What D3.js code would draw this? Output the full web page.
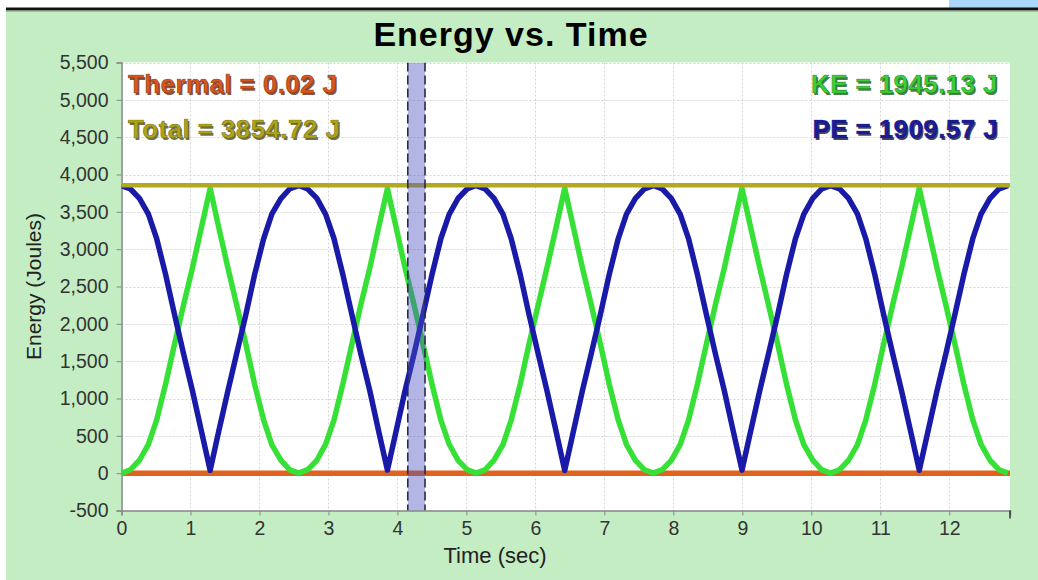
<!DOCTYPE html>
<html><head><meta charset="utf-8">
<script src="https://cdn.jsdelivr.net/npm/d3@7"></script>
<style>body{margin:0;background:#fff;overflow:hidden}svg{display:block}</style>
</head><body><svg id="c" width="1038" height="580"></svg>
<script>
// ---- data ----
const timeSec = [0,0.13,0.26,0.39,0.51,0.64,0.77,0.90,1.03,1.16,1.285,
1.41,1.54,1.67,1.80,1.93,2.06,2.18,2.31,2.44,2.57,
2.70,2.83,2.96,3.08,3.21,3.34,3.47,3.60,3.73,3.855,
3.98,4.11,4.24,4.37,4.50,4.63,4.75,4.88,5.01,5.14,
5.27,5.40,5.53,5.65,5.78,5.91,6.04,6.17,6.30,6.425,
6.55,6.68,6.81,6.94,7.07,7.20,7.32,7.45,7.58,7.71,
7.84,7.97,8.10,8.22,8.35,8.48,8.61,8.74,8.87,8.995,
9.12,9.25,9.38,9.51,9.64,9.77,9.89,10.02,10.15,10.28,
10.41,10.54,10.67,10.79,10.92,11.05,11.18,11.31,11.44,11.565,
11.69,11.82,11.95,12.08,12.21,12.34,12.46,12.59,12.72,12.85];
const keJ = [0,46,173,385,713,1195,1735,2255,2756,3296,3816,
3290,2760,2250,1740,1190,715,380,175,44,0,
48,170,388,710,1198,1730,2260,2750,3300,3812,
3294,2752,2258,1732,1197,710,387,171,47,0,
45,174,383,715,1192,1738,2252,2758,3292,3818,
3297,2755,2253,1737,1193,714,384,172,46,0,
47,172,386,711,1196,1733,2257,2754,3298,3814,
3293,2758,2251,1739,1194,712,386,174,45,0,
46,173,384,714,1194,1736,2256,2757,3295,3815,
3296,2756,2254,1734,1196,713,385,173,46,0];
const peJ = [3850,3806,3680,3468,3140,2658,2118,1598,1097,557,38,
563,1093,1603,2113,2663,3138,3473,3678,3809,3852,
3805,3683,3465,3143,2655,2123,1593,1103,553,42,
559,1101,1595,2121,2656,3143,3466,3682,3806,3852,
3808,3679,3470,3138,2661,2115,1601,1095,561,36,
556,1098,1600,2116,2660,3139,3469,3681,3807,3852,
3806,3681,3467,3142,2657,2120,1596,1099,555,40,
560,1095,1602,2114,2659,3141,3467,3679,3808,3852,
3807,3680,3469,3139,2659,2117,1597,1096,558,39,
557,1097,1599,2119,2657,3140,3468,3680,3807,3852];
const flatTime = [0, 12.88];
const totalJ = [3854.72, 3854.72];
const thermalJ = [0.02, 0.02];
const yTicks = [-500,0,500,1000,1500,2000,2500,3000,3500,4000,4500,5000,5500];
const xTicks = [0,1,2,3,4,5,6,7,8,9,10,11,12];
const bandSec = [4.15, 4.40];
const readoutLabels = ["Thermal = 0.02 J","Total = 3854.72 J","KE = 1945.13 J","PE = 1909.57 J"];

// ---- drawing ----
const svg = d3.select("#c");
const W = 1038, H = 580;
const plot = {l:121.5, r:1010, t:62.5, b:510.5};

svg.append("rect").attr("x",0).attr("y",0).attr("width",W).attr("height",H).attr("fill","#fff");
svg.append("rect").attr("x",6).attr("y",10).attr("width",W-6).attr("height",H-10).attr("fill","#c4edc4");
svg.append("rect").attr("x",949).attr("y",0).attr("width",89).attr("height",8).attr("fill","#a9d8fb");
svg.append("rect").attr("x",6).attr("y",7.5).attr("width",W-6).attr("height",2.5).attr("fill","#111");
svg.append("rect").attr("x",6).attr("y",10).attr("width",W-6).attr("height",1.5).attr("fill","#7a8f7a");

const x = d3.scaleLinear().domain([0,12.88]).range([plot.l, plot.r]);
const y = d3.scaleLinear().domain([-500,5500]).range([plot.b, plot.t]);

svg.append("rect").attr("x",plot.l).attr("y",plot.t).attr("width",plot.r-plot.l).attr("height",plot.b-plot.t).attr("fill","#fff");

const grid = svg.append("g").attr("stroke","#d4d4d4").attr("stroke-width",1).attr("stroke-dasharray","2,2");
yTicks.forEach(v=>grid.append("line").attr("x1",plot.l).attr("x2",plot.r).attr("y1",Math.round(y(v))+0.5).attr("y2",Math.round(y(v))+0.5));
xTicks.forEach(v=>grid.append("line").attr("y1",plot.t).attr("y2",plot.b).attr("x1",Math.round(x(v))+0.5).attr("x2",Math.round(x(v))+0.5));

const font = "'Liberation Sans', Arial, sans-serif";
const fmtY = d => d3.format(",")(d).replace("\u2212","-");
const yAxis = svg.append("g").attr("transform",`translate(${plot.l},0)`)
  .call(d3.axisLeft(y).tickValues(yTicks).tickSize(5).tickPadding(8).tickFormat(fmtY));
const xAxis = svg.append("g").attr("transform",`translate(0,${plot.b})`)
  .call(d3.axisBottom(x).tickValues(xTicks).tickSize(5).tickPadding(6).tickFormat(d3.format("d")));
[yAxis,xAxis].forEach(a=>{
  a.select(".domain").attr("stroke","#888").attr("stroke-width",1.5);
  a.selectAll(".tick line").attr("stroke","#888");
  a.selectAll(".tick text").attr("fill","#333").style("font-family",font).style("font-size","19.5px");
});
svg.append("line").attr("x1",plot.r).attr("x2",plot.r).attr("y1",plot.b).attr("y2",plot.b+8).attr("stroke","#333").attr("stroke-width",1.5);

svg.append("clipPath").attr("id","clip").append("rect").attr("x",plot.l).attr("y",plot.t).attr("width",plot.r-plot.l).attr("height",plot.b-plot.t);
const g = svg.append("g").attr("clip-path","url(#clip)");
const line = d3.line().x(d=>x(d[0])).y(d=>y(d[1]));

g.append("path").datum(flatTime.map((t,i)=>[t,thermalJ[i]])).attr("d",line).attr("fill","none").attr("stroke","#e0621e").attr("stroke-width",5.5);
g.append("path").datum(timeSec.map((t,i)=>[t,keJ[i]])).attr("d",line).attr("fill","none").attr("stroke","#36e036").attr("stroke-width",5.5).attr("stroke-linejoin","round");
g.append("path").datum(timeSec.map((t,i)=>[t,peJ[i]])).attr("d",line).attr("fill","none").attr("stroke","#1a1aa8").attr("stroke-width",5.5).attr("stroke-linejoin","round");
g.append("path").datum(flatTime.map((t,i)=>[t,totalJ[i]])).attr("d",line).attr("fill","none").attr("stroke","#b2aa1e").attr("stroke-width",4.5);

g.append("rect").attr("x",x(bandSec[0])).attr("y",plot.t).attr("width",x(bandSec[1])-x(bandSec[0])).attr("height",plot.b-plot.t)
  .attr("fill","#4a50c0").attr("fill-opacity",0.42);
bandSec.forEach(t=>g.append("line").attr("x1",x(t)).attr("x2",x(t)).attr("y1",plot.t).attr("y2",plot.b)
  .attr("stroke","#2a2a48").attr("stroke-width",1.6).attr("stroke-dasharray","9,4"));

const ro = [
  {t:readoutLabels[0], x:128, y:93, anchor:"start", fill:"#d9561c", dark:"#5a2008"},
  {t:readoutLabels[1], x:128, y:138, anchor:"start", fill:"#aca41a", dark:"#4a4408"},
  {t:readoutLabels[2], x:998, y:93, anchor:"end", fill:"#38d038", dark:"#115511"},
  {t:readoutLabels[3], x:998, y:138, anchor:"end", fill:"#1c1ca0", dark:"#08083a"}
];
ro.forEach(o=>{
  svg.append("text").attr("x",o.x+1.5).attr("y",o.y+1.5).attr("text-anchor",o.anchor).text(o.t)
    .style("font-family",font).style("font-weight","bold").style("font-size","26px").style("letter-spacing","0.4px")
    .attr("fill",o.dark).attr("fill-opacity",0.75);
  svg.append("text").attr("x",o.x).attr("y",o.y).attr("text-anchor",o.anchor).text(o.t)
    .style("font-family",font).style("font-weight","bold").style("font-size","26px").style("letter-spacing","0.4px")
    .attr("fill",o.fill).attr("stroke",o.dark).attr("stroke-width",0.6).attr("stroke-opacity",0.6);
});

svg.append("text").attr("x",511).attr("y",46).attr("text-anchor","middle").text("Energy vs. Time")
  .style("font-family",font).style("font-weight","bold").style("font-size","34px").style("letter-spacing","1px").attr("fill","#000");
svg.append("text").attr("x",495).attr("y",563).attr("text-anchor","middle").text("Time (sec)")
  .style("font-family",font).style("font-size","22px").attr("fill","#222");
svg.append("text").attr("transform",`translate(41,${(plot.t+plot.b)/2}) rotate(-90)`).attr("text-anchor","middle").text("Energy (Joules)")
  .style("font-family",font).style("font-size","21px").attr("fill","#222");
</script></body></html>
